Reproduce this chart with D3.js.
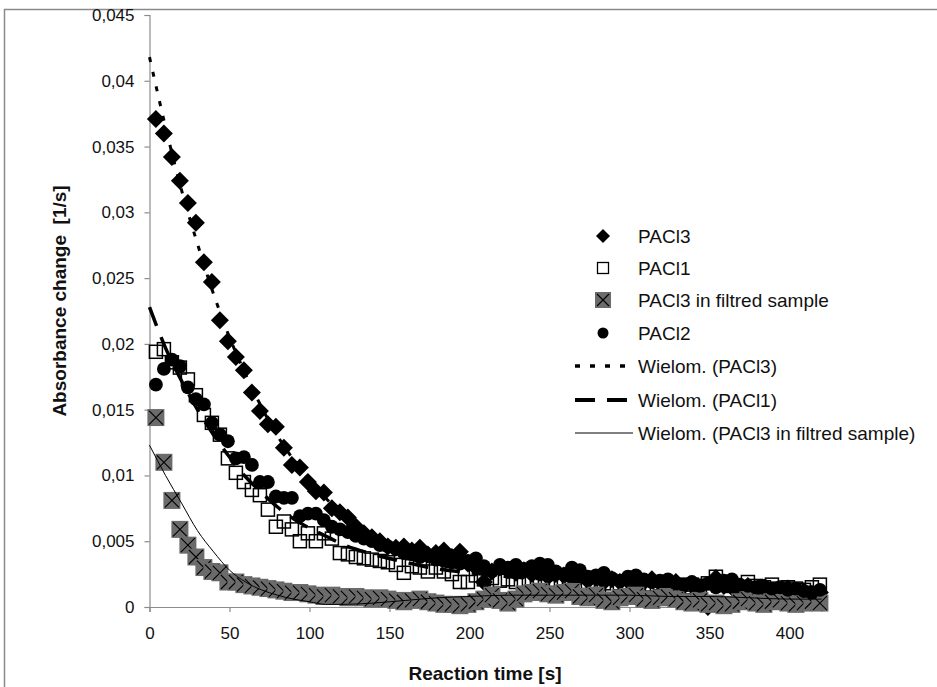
<!DOCTYPE html>
<html>
<head>
<meta charset="utf-8">
<script src="https://cdn.jsdelivr.net/npm/d3@7/dist/d3.min.js"></script>
<style>
	body { margin: 0; background: #fff; }
	svg { display: block; font-family: 'Liberation Sans', Arial, sans-serif; }
</style>
</head>
<body>
<div id="wrapper"></div>
<script>
// sampling times [s]
const times = [
	4, 9, 14, 19, 24, 29, 34, 39, 44, 49, 54, 59, 64, 69, 74, 79, 84, 89, 94, 99,
	104, 109, 114, 119, 124, 129, 134, 139, 144, 149, 154, 159, 164, 169, 174, 179, 184, 189, 194, 199,
	204, 209, 214, 219, 224, 229, 234, 239, 244, 249, 254, 259, 264, 269, 274, 279, 284, 289, 294, 299,
	304, 309, 314, 319, 324, 329, 334, 339, 344, 349, 354, 359, 364, 369, 374, 379, 384, 389, 394, 399,
	404, 409, 414, 419
];

const pacl3 = [
	0.0371, 0.0360, 0.0342, 0.0324, 0.0307, 0.0292, 0.0262, 0.0247, 0.0218, 0.0202, 0.0190, 0.0180, 0.0163, 0.0149, 0.0139, 0.0137, 0.0121, 0.0108, 0.0106, 0.0095,
	0.0088, 0.0087, 0.0075, 0.0072, 0.0068, 0.0061, 0.0056, 0.0053, 0.0050, 0.0046, 0.0045, 0.0046, 0.0043, 0.0045, 0.0040, 0.0041, 0.0043, 0.0038, 0.0042, 0.0033,
	0.0030, 0.0019, 0.0027, 0.0030, 0.0028, 0.0026, 0.0028, 0.0025, 0.0026, 0.0023, 0.0025, 0.0024, 0.0022, 0.0023, 0.0020, 0.0022, 0.0019, 0.0021, 0.0019, 0.0020,
	0.0018, 0.0019, 0.0021, 0.0018, 0.0017, 0.0019, 0.0016, 0.0017, 0.0015, 0.0000, 0.0022, 0.0016, 0.0015, 0.0014, 0.0016, 0.0013, 0.0014, 0.0013, 0.0012, 0.0014,
	0.0011, 0.0012, 0.0010, 0.0011
];

const pacl1 = [
	0.0194, 0.0196, 0.0186, 0.0182, 0.0173, 0.0161, 0.0146, 0.0140, 0.0131, 0.0113, 0.0102, 0.0095, 0.0089, 0.0085, 0.0074, 0.0061, 0.0065, 0.0059, 0.0050, 0.0056,
	0.0050, 0.0056, 0.0052, 0.0041, 0.0040, 0.0038, 0.0037, 0.0036, 0.0035, 0.0034, 0.0032, 0.0026, 0.0031, 0.0030, 0.0027, 0.0030, 0.0027, 0.0025, 0.0019, 0.0019,
	0.0024, 0.0021, 0.0022, 0.0020, 0.0021, 0.0019, 0.0020, 0.0018, 0.0019, 0.0020, 0.0018, 0.0019, 0.0017, 0.0018, 0.0019, 0.0017, 0.0018, 0.0016, 0.0018, 0.0017,
	0.0018, 0.0016, 0.0017, 0.0018, 0.0016, 0.0017, 0.0015, 0.0017, 0.0016, 0.0018, 0.0023, 0.0017, 0.0016, 0.0015, 0.0019, 0.0016, 0.0015, 0.0017, 0.0014, 0.0015,
	0.0014, 0.0013, 0.0015, 0.0017
];

const pacl3Filtred = [
	0.0144, 0.0110, 0.0081, 0.0059, 0.0047, 0.0038, 0.0030, 0.0027, 0.0026, 0.0019, 0.0019, 0.0017, 0.0016, 0.0015, 0.0014, 0.0013, 0.0012, 0.0011, 0.0011, 0.0010,
	0.0009, 0.0008, 0.0009, 0.0008, 0.0007, 0.0008, 0.0007, 0.0006, 0.0007, 0.0006, 0.0005, 0.0004, 0.0005, 0.0006, 0.0004, 0.0003, 0.0002, 0.0002, 0.0001, 0.0002,
	0.0004, 0.0006, 0.0009, 0.0005, 0.0003, 0.0006, 0.0010, 0.0011, 0.0012, 0.0010, 0.0009, 0.0011, 0.0012, 0.0008, 0.0007, 0.0009, 0.0005, 0.0004, 0.0007, 0.0008,
	0.0009, 0.0006, 0.0005, 0.0007, 0.0008, 0.0006, 0.0004, 0.0003, 0.0005, 0.0002, 0.0003, 0.0001, 0.0002, 0.0004, 0.0006, 0.0003, 0.0002, 0.0004, 0.0005, 0.0003,
	0.0002, 0.0003, 0.0004, 0.0003
];

const pacl2 = [
	0.0169, 0.0181, 0.0188, 0.0183, 0.0167, 0.0158, 0.0154, 0.0140, 0.0131, 0.0126, 0.0113, 0.0114, 0.0108, 0.0095, 0.0095, 0.0084, 0.0083, 0.0083, 0.0069, 0.0071,
	0.0071, 0.0066, 0.0061, 0.0059, 0.0057, 0.0054, 0.0052, 0.0050, 0.0047, 0.0046, 0.0044, 0.0041, 0.0040, 0.0038, 0.0039, 0.0036, 0.0035, 0.0034, 0.0033, 0.0035,
	0.0037, 0.0031, 0.0027, 0.0032, 0.0030, 0.0032, 0.0029, 0.0031, 0.0033, 0.0032, 0.0027, 0.0025, 0.0030, 0.0028, 0.0023, 0.0024, 0.0026, 0.0022, 0.0020, 0.0023,
	0.0024, 0.0021, 0.0019, 0.0020, 0.0021, 0.0018, 0.0017, 0.0019, 0.0016, 0.0018, 0.0015, 0.0020, 0.0021, 0.0017, 0.0016, 0.0015, 0.0016, 0.0014, 0.0015, 0.0013,
	0.0014, 0.0012, 0.0011, 0.0013
];

// polynomial trend lines ("Wielom.")
const trendTimes = [0, 10, 20, 30, 40, 50, 60, 70, 80, 90, 100, 110, 120, 140, 160, 180, 200, 225, 250, 275, 300, 325, 350, 375, 400, 420];
const trendPacl3 = [0.0418, 0.0365, 0.0317, 0.0276, 0.0238, 0.0205, 0.0177, 0.0152, 0.0130, 0.0112, 0.0096, 0.0083, 0.0071, 0.0054, 0.0042, 0.0034, 0.0029, 0.0025, 0.0023, 0.0021, 0.0019, 0.0017, 0.0015, 0.0014, 0.0013, 0.0013];
const trendPacl1 = [0.0228, 0.0197, 0.0172, 0.0150, 0.0131, 0.0114, 0.0099, 0.0087, 0.0076, 0.0067, 0.0060, 0.0054, 0.0048, 0.0040, 0.0034, 0.0029, 0.0026, 0.0023, 0.0021, 0.0019, 0.0018, 0.0017, 0.0016, 0.0016, 0.0015, 0.0015];
const trendFiltred = [0.0123, 0.0100, 0.0079, 0.0058, 0.0042, 0.0028, 0.0019, 0.0013, 0.0009, 0.0006, 0.0004, 0.0002, 0.0002, 0.0003, 0.0005, 0.0007, 0.0008, 0.0009, 0.0009, 0.0009, 0.0009, 0.0008, 0.0008, 0.0007, 0.0006, 0.0006];

const xTicks = [0, 50, 100, 150, 200, 250, 300, 350, 400];
const yTicks = [0, 0.005, 0.01, 0.015, 0.02, 0.025, 0.03, 0.035, 0.04, 0.045];
const legendLabels = [
	'PACl3', 'PACl1', 'PACl3 in filtred sample', 'PACl2',
	'Wielom. (PACl3)', 'Wielom. (PACl1)', 'Wielom. (PACl3 in filtred sample)'
];

const dimensions = {
	width: 937,
	height: 687,
	margin: { top: 15, right: 115.5, bottom: 80, left: 149.5 }
};
dimensions.boundedWidth = dimensions.width - dimensions.margin.left - dimensions.margin.right;
dimensions.boundedHeight = dimensions.height - dimensions.margin.top - dimensions.margin.bottom;

function drawChart() {
	const x = d3.scaleLinear().domain([ 0, 420 ]).range([ 0, dimensions.boundedWidth ]);
	const y = d3.scaleLinear().domain([ 0, 0.045 ]).range([ dimensions.boundedHeight, 0 ]);

	const svg = d3.select('#wrapper').append('svg')
		.attr('width', dimensions.width)
		.attr('height', dimensions.height);

	// chart area frame (only top and left edges fall inside the picture)
	svg.append('path')
		.attr('d', 'M4.5,687 V9.5 H937')
		.attr('fill', 'none')
		.attr('stroke', '#8a8a8a')
		.attr('stroke-width', 1.5);

	const bounds = svg.append('g')
		.attr('transform', `translate(${dimensions.margin.left}, ${dimensions.margin.top})`);

	const fmt = (d) => (d === 0 ? '0' : d3.format('.3~f')(d).replace('.', ','));

	const yAxis = bounds.append('g')
		.call(d3.axisLeft(y).tickValues(yTicks).tickFormat(fmt).tickSize(5).tickPadding(10));
	const xAxis = bounds.append('g')
		.attr('transform', `translate(0, ${dimensions.boundedHeight})`)
		.call(d3.axisBottom(x).tickValues(xTicks).tickSize(5).tickPadding(15));

	[ yAxis, xAxis ].forEach((ax) => {
		ax.select('.domain').attr('stroke', '#8c8c8c').attr('stroke-width', 1.2);
		ax.selectAll('.tick line').attr('stroke', '#8c8c8c').attr('stroke-width', 1.2);
		ax.selectAll('.tick text').attr('fill', '#111').style('font-size', '17px').style('font-family', 'Liberation Sans, Arial, sans-serif');
	});

	svg.append('text')
		.attr('x', 485)
		.attr('y', 680)
		.attr('text-anchor', 'middle')
		.style('font-size', '19px')
		.style('font-weight', 'bold')
		.attr('fill', '#111')
		.text('Reaction time [s]');

	svg.append('text')
		.attr('transform', 'translate(66, 301) rotate(-90)')
		.attr('text-anchor', 'middle')
		.style('font-size', '19px')
		.style('font-weight', 'bold')
		.style('white-space', 'pre')
		.attr('fill', '#111')
		.text('Absorbance change  [1/s]');

	const pts = (vals) => vals.map((v, i) => ({ t: times[i], v: v }));

	// markers
	const diamond = (s) => `M0,${-s} L${s},0 L0,${s} L${-s},0 Z`;

	bounds.append('g').selectAll('path')
		.data(pts(pacl3))
		.join('path')
		.attr('transform', (d) => `translate(${x(d.t)}, ${y(d.v)})`)
		.attr('d', diamond(9))
		.attr('fill', '#000');

	bounds.append('g').selectAll('rect')
		.data(pts(pacl1))
		.join('rect')
		.attr('x', (d) => x(d.t) - 6.5)
		.attr('y', (d) => y(d.v) - 6.5)
		.attr('width', 13)
		.attr('height', 13)
		.attr('fill', 'none')
		.attr('stroke', '#000')
		.attr('stroke-width', 1.5);

	const filt = bounds.append('g').selectAll('g')
		.data(pts(pacl3Filtred))
		.join('g')
		.attr('transform', (d) => `translate(${x(d.t)}, ${y(d.v)})`);
	filt.append('rect')
		.attr('x', -8.5).attr('y', -8.5).attr('width', 17).attr('height', 17)
		.attr('fill', '#6b6b6b');
	filt.append('path')
		.attr('d', 'M-7,-7 L7,7 M-7,7 L7,-7')
		.attr('stroke', '#000')
		.attr('stroke-width', 1.1);

	bounds.append('g').selectAll('circle')
		.data(pts(pacl2))
		.join('circle')
		.attr('cx', (d) => x(d.t))
		.attr('cy', (d) => y(d.v))
		.attr('r', 6.9)
		.attr('fill', '#000');

	// trend lines
	const line = d3.line().x((d) => x(d.t)).y((d) => y(d.v)).curve(d3.curveMonotoneX);
	const trend = (vals) => vals.map((v, i) => ({ t: trendTimes[i], v: v }));
	const trendStyles = [
		{ vals: trendPacl3, dash: '5,10', width: 3 },
		{ vals: trendPacl1, dash: '20,12', width: 3.5 },
		{ vals: trendFiltred, dash: null, width: 1 }
	];
	trendStyles.forEach((s) => {
		bounds.append('path')
			.attr('d', line(trend(s.vals)))
			.attr('fill', 'none')
			.attr('stroke', '#000')
			.attr('stroke-width', s.width)
			.attr('stroke-dasharray', s.dash);
	});

	// legend
	const legendY = [ 236, 268, 300, 333, 366, 400, 433 ];
	const legend = svg.append('g');
	legend.selectAll('text')
		.data(legendLabels)
		.join('text')
		.attr('x', 638)
		.attr('y', (d, i) => legendY[i])
		.attr('dy', '0.35em')
		.style('font-size', '19px')
		.attr('fill', '#111')
		.text((d) => d);

	legend.append('path').attr('transform', `translate(603, ${legendY[0]})`).attr('d', diamond(7)).attr('fill', '#000');
	legend.append('rect').attr('x', 597.5).attr('y', legendY[1] - 5.5).attr('width', 11).attr('height', 11)
		.attr('fill', 'none').attr('stroke', '#000').attr('stroke-width', 1.3);
	legend.append('rect').attr('x', 595).attr('y', legendY[2] - 8).attr('width', 16).attr('height', 16).attr('fill', '#6b6b6b');
	legend.append('path').attr('d', `M597,${legendY[2] - 6} l12,12 M597,${legendY[2] + 6} l12,-12`)
		.attr('stroke', '#000').attr('stroke-width', 1.1);
	legend.append('circle').attr('cx', 603).attr('cy', legendY[3]).attr('r', 5.5).attr('fill', '#000');

	trendStyles.forEach((s, i) => {
		legend.append('line')
			.attr('x1', 575).attr('x2', 633)
			.attr('y1', legendY[4 + i]).attr('y2', legendY[4 + i])
			.attr('stroke', '#000')
			.attr('stroke-width', i === 2 ? 1 : s.width + 0.5)
			.attr('stroke-dasharray', i === 0 ? '5,10' : i === 1 ? '20,12' : null);
	});
}
drawChart();
</script>
</body>
</html>
